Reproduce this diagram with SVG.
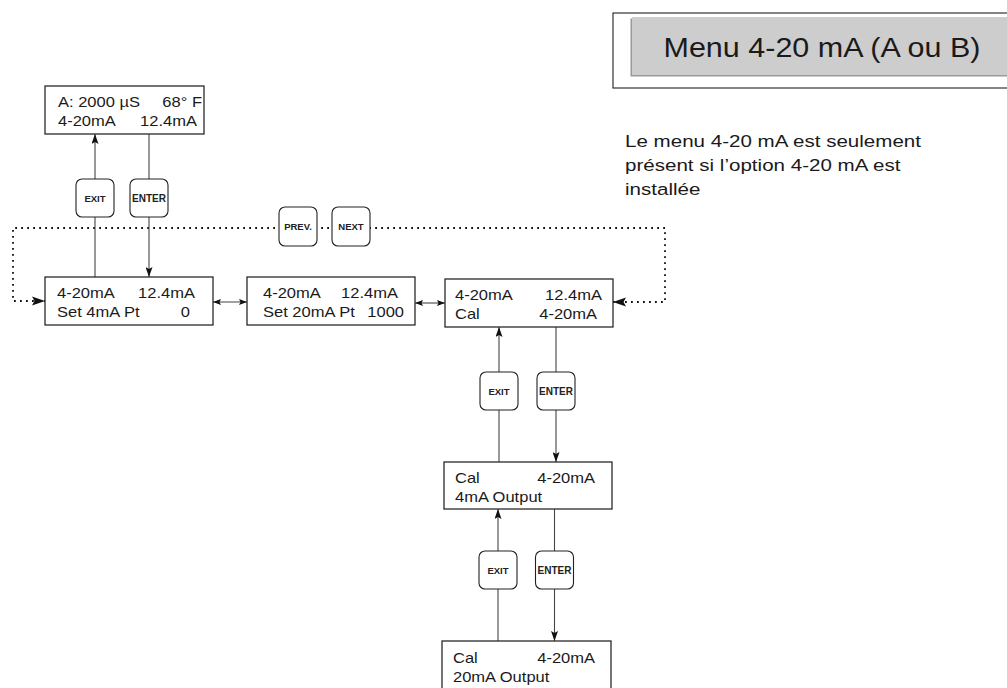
<svg xmlns="http://www.w3.org/2000/svg" width="1007" height="688" viewBox="0 0 1007 688">
<defs>
<style>
.box{fill:#fff;stroke:#2a2a2a;stroke-width:1.3}
.btn{fill:#fff;stroke:#222;stroke-width:1.1}
.t{font-family:"Liberation Sans",Arial,Helvetica,sans-serif;font-size:14px;fill:#1a1a1a}
.e{text-anchor:end}
.b{font-family:"Liberation Sans",Arial,Helvetica,sans-serif;font-weight:bold;font-size:9.5px;fill:#222;text-anchor:middle}
.b2{font-size:10px}
.ln{fill:none;stroke:#444;stroke-width:1.1}
.dot{fill:none;stroke:#111;stroke-width:1.8;stroke-dasharray:1.8 4.2}
</style>
<marker id="av" markerWidth="10" markerHeight="7" refX="10" refY="3.5" orient="auto-start-reverse" markerUnits="userSpaceOnUse"><path d="M0,0 L10,3.5 L0,7 L2,3.5 z" fill="#111"/></marker>
<marker id="as" markerWidth="8" markerHeight="6" refX="8" refY="3" orient="auto-start-reverse" markerUnits="userSpaceOnUse"><path d="M0,0 L8,3 L0,6 L1.5,3 z" fill="#111"/></marker>
</defs>
<rect width="1007" height="688" fill="#fff"/>

<g id="title">
<rect x="613" y="13" width="400" height="75" fill="#fff" stroke="#333" stroke-width="1.2"/>
<rect x="630.5" y="18.5" width="380" height="58" fill="#9a9a9a"/>
<rect x="632" y="17" width="380" height="58" fill="#cdcdcd"/>
<text class="t" style="font-size:27px" text-anchor="middle" transform="translate(822 57) scale(1.13 1)">Menu 4-20 mA (A ou B)</text>
</g>

<g id="note">
<text class="t" style="font-size:17px" transform="translate(625 147) scale(1.21 1)">Le menu 4-20 mA est seulement</text>
<text class="t" style="font-size:17px" transform="translate(625 171) scale(1.21 1)">présent si l’option 4-20 mA est</text>
<text class="t" style="font-size:17px" transform="translate(625 195) scale(1.21 1)">installée</text>
</g>

<g id="connectors">
<path class="dot" d="M613,302 L665,302 L665,228 L13,228 L13,301 L45,301"/>
<path d="M613,302 l13,-4.5 l-2.5,4.5 l2.5,4.5 z M45,301 l-13,-4.5 l2.5,4.5 l-2.5,4.5 z" fill="#111"/>
<line class="ln" x1="95" y1="277" x2="95" y2="134" marker-end="url(#av)"/>
<line class="ln" x1="149" y1="134" x2="149" y2="277" marker-end="url(#av)"/>
<line class="ln" x1="213" y1="302" x2="247" y2="302" marker-start="url(#as)" marker-end="url(#as)"/>
<line class="ln" x1="415" y1="303" x2="445" y2="303" marker-start="url(#as)" marker-end="url(#as)"/>
<line class="ln" x1="499" y1="462" x2="499" y2="327" marker-end="url(#av)"/>
<line class="ln" x1="556" y1="327" x2="556" y2="462" marker-end="url(#av)"/>
<line class="ln" x1="498" y1="641" x2="498" y2="509" marker-end="url(#av)"/>
<line class="ln" x1="554.5" y1="509" x2="554.5" y2="641" marker-end="url(#av)"/>
</g>

<g id="btn-exit-1"><rect class="btn" x="76" y="179" width="38" height="38" rx="6"/><text class="b" x="95" y="201.5">EXIT</text></g>
<g id="btn-enter-1"><rect class="btn" x="130" y="179" width="38" height="38" rx="6"/><text class="b b2" x="149" y="201.5">ENTER</text></g>
<g id="btn-prev"><rect class="btn" x="279" y="207" width="38" height="39" rx="6"/><text class="b" x="298" y="230">PREV.</text></g>
<g id="btn-next"><rect class="btn" x="332" y="207" width="38" height="39" rx="6"/><text class="b" x="351" y="230">NEXT</text></g>
<g id="btn-exit-2"><rect class="btn" x="480" y="372" width="38" height="38" rx="6"/><text class="b" x="499" y="394.5">EXIT</text></g>
<g id="btn-enter-2"><rect class="btn" x="537" y="372" width="38" height="38" rx="6"/><text class="b b2" x="556" y="394.5">ENTER</text></g>
<g id="btn-exit-3"><rect class="btn" x="479" y="551" width="38" height="38" rx="6"/><text class="b" x="498" y="573.5">EXIT</text></g>
<g id="btn-enter-3"><rect class="btn" x="535.5" y="551" width="38" height="38" rx="6"/><text class="b b2" x="554.5" y="573.5">ENTER</text></g>

<g id="main-display">
<rect class="box" x="45" y="86" width="159" height="48"/>
<text class="t" transform="translate(58 107) scale(1.18 1)">A: 2000 µS</text>
<text class="t e" transform="translate(202 107) scale(1.18 1)">68° F</text>
<text class="t" transform="translate(58 126) scale(1.18 1)">4-20mA</text>
<text class="t e" transform="translate(197 126) scale(1.18 1)">12.4mA</text>
</g>

<g id="set-4ma">
<rect class="box" x="45" y="277" width="168" height="48"/>
<text class="t" transform="translate(57 298) scale(1.18 1)">4-20mA</text>
<text class="t e" transform="translate(195 298) scale(1.18 1)">12.4mA</text>
<text class="t" transform="translate(57 317) scale(1.18 1)">Set 4mA Pt</text>
<text class="t e" transform="translate(190 317) scale(1.18 1)">0</text>
</g>

<g id="set-20ma">
<rect class="box" x="247" y="277" width="168" height="48"/>
<text class="t" transform="translate(263 298) scale(1.18 1)">4-20mA</text>
<text class="t e" transform="translate(398 298) scale(1.18 1)">12.4mA</text>
<text class="t" transform="translate(263 317) scale(1.18 1)">Set 20mA Pt</text>
<text class="t e" transform="translate(404 317) scale(1.18 1)">1000</text>
</g>

<g id="cal-menu">
<rect class="box" x="445" y="279" width="168" height="48"/>
<text class="t" transform="translate(455 300) scale(1.18 1)">4-20mA</text>
<text class="t e" transform="translate(602 300) scale(1.18 1)">12.4mA</text>
<text class="t" transform="translate(455 319) scale(1.18 1)">Cal</text>
<text class="t e" transform="translate(597 319) scale(1.18 1)">4-20mA</text>
</g>

<g id="cal-4ma">
<rect class="box" x="444" y="462" width="168" height="47"/>
<text class="t" transform="translate(455 483) scale(1.18 1)">Cal</text>
<text class="t e" transform="translate(595 483) scale(1.18 1)">4-20mA</text>
<text class="t" transform="translate(455 502) scale(1.18 1)">4mA Output</text>
</g>

<g id="cal-20ma">
<rect class="box" x="442" y="641" width="169" height="60"/>
<text class="t" transform="translate(453 663) scale(1.18 1)">Cal</text>
<text class="t e" transform="translate(595 663) scale(1.18 1)">4-20mA</text>
<text class="t" transform="translate(453 682) scale(1.18 1)">20mA Output</text>
</g>
</svg>
